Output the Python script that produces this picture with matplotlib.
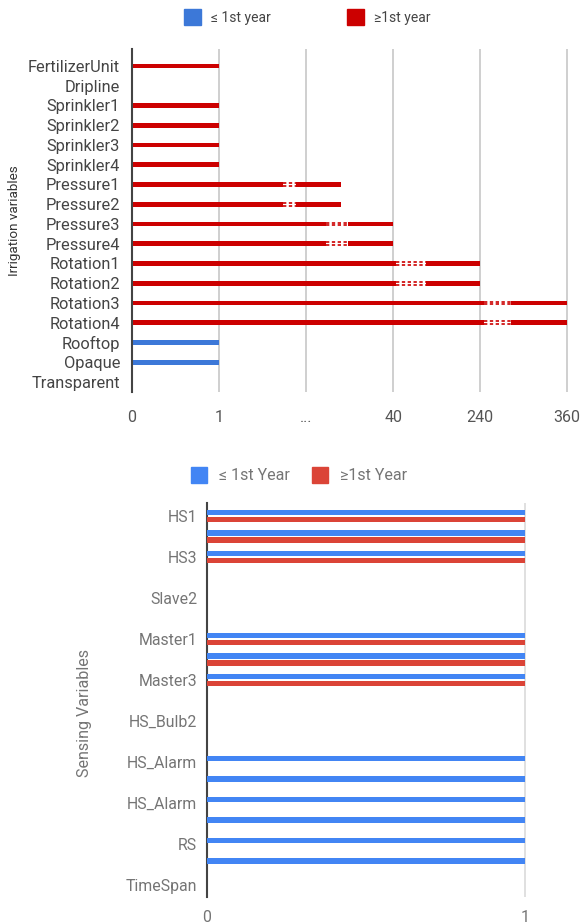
import numpy as np
import matplotlib
matplotlib.use('Agg')
import matplotlib.pyplot as plt
from matplotlib.patches import Patch

plt.rcParams['font.family'] = ['Roboto', 'DejaVu Sans']

# --- datos: variables de riego (eje x por posiciones) ---
irr_vars = ['FertilizerUnit', 'Dripline', 'Sprinkler1', 'Sprinkler2', 'Sprinkler3',
            'Sprinkler4', 'Pressure1', 'Pressure2', 'Pressure3', 'Pressure4',
            'Rotation1', 'Rotation2', 'Rotation3', 'Rotation4', 'Rooftop',
            'Opaque', 'Transparent']
irr_le1 = [0, 0, 0, 0, 0, 0, 0, 0, 0, 0, 0, 0, 0, 0, 1, 1, 0]
irr_ge1 = [1, 0, 1, 1, 1, 1, 2.4, 2.4, 3, 3, 4, 4, 5, 5, 0, 0, 0]
nan = np.nan
break_lo = [nan] * 6 + [1.73, 1.73, 2.23, 2.23, 3.03, 3.03, 4.04, 4.04] + [nan] * 3
break_hi = [nan] * 6 + [1.88, 1.88, 2.48, 2.48, 3.38, 3.38, 4.35, 4.35] + [nan] * 3
irr_xticks = ['0', '1', '...', '40', '240', '360']

# --- datos: variables de sensado ---
sens_vars = ['HS1', 'HS2', 'HS3', 'Slave1', 'Slave2', 'Slave3', 'Master1', 'Master2',
             'Master3', 'HS_Bulb1', 'HS_Bulb2', 'HS_Bulb3', 'HS_Alarm', 'HS_Alarm',
             'HS_Alarm', 'HS_Alarm', 'RS', 'RS', 'TimeSpan']
sens_le1 = [1, 1, 1, 0, 0, 0, 1, 1, 1, 0, 0, 0, 1, 1, 1, 1, 1, 1, 0]
sens_ge1 = [1, 1, 1, 0, 0, 0, 1, 1, 1, 0, 0, 0, 0, 0, 0, 0, 0, 0, 0]
sens_xticks = ['0', '1']

RED1, BLUE1 = '#cc0000', '#3c78d8'
BLUE2, RED2 = '#4285f4', '#db4437'
GRID = '#cccccc'

fig = plt.figure(figsize=(5.84, 9.24), dpi=100)

# Grafico superior
ax1 = fig.add_axes([0.226, 0.5758, 0.7466, 0.3712])
y1 = np.arange(len(irr_vars))
ax1.barh(y1, irr_ge1, height=0.24, color=RED1, zorder=3)
ax1.barh(y1, irr_le1, height=0.24, color=BLUE1, zorder=3)
lo = np.array(break_lo)
hi = np.array(break_hi)
ok = ~np.isnan(lo)
ax1.barh(y1[ok], hi[ok] - lo[ok], left=lo[ok], height=0.26, color='white', zorder=4)
for off in (-0.07, 0.07):
    ax1.hlines(y1[ok] + off, lo[ok], hi[ok], colors=RED1, linewidth=1.2,
               linestyles=(0, (2, 1.5)), zorder=5)
ax1.set_xlim(0, 5.01)
ax1.set_ylim(16.51, -0.86)
ax1.set_yticks(y1, irr_vars)
ax1.set_xticks(np.arange(len(irr_xticks)), irr_xticks)
ax1.xaxis.grid(True, color=GRID, linewidth=1.3, zorder=0)
ax1.set_axisbelow(True)
for s in ['top', 'right', 'bottom']:
    ax1.spines[s].set_visible(False)
ax1.spines['left'].set_color('#444444')
ax1.spines['left'].set_linewidth(1.5)
ax1.spines['left'].set_zorder(6)
ax1.tick_params(axis='y', length=0, pad=8.5, labelsize=11.8, labelcolor='#444444')
ax1.tick_params(axis='x', length=0, pad=13, labelsize=11.5, labelcolor='#555555')
ax1.set_ylabel('Irrigation variables', fontsize=9.7, color='#333333')
ax1.yaxis.set_label_coords(-0.255, 0.5)
leg1 = ax1.legend(handles=[Patch(color=BLUE1, label='≤ 1st year'),
                           Patch(color=RED1, label='≥1st year')],
                  ncol=2, loc='center', bbox_to_anchor=(0.5265, 0.9816),
                  bbox_transform=fig.transFigure, frameon=False, fontsize=10,
                  handlelength=1.22, handleheight=1.39, handletextpad=0.72,
                  columnspacing=5.5, borderpad=0, borderaxespad=0)
for t in leg1.get_texts():
    t.set_color('#444444')

# Grafico inferior
ax2 = fig.add_axes([0.3545, 0.0292, 0.5462, 0.4264])
y2 = np.arange(len(sens_vars))
ax2.barh(y2 - 0.17, sens_le1, height=0.25, color=BLUE2, zorder=3)
ax2.barh(y2 + 0.17, sens_ge1, height=0.25, color=RED2, zorder=3)
ax2.set_xlim(0, 1.003)
ax2.set_ylim(18.585, -0.634)
ax2.set_yticks(y2[::2], sens_vars[::2])
ax2.set_xticks(np.arange(len(sens_xticks)), sens_xticks)
ax2.xaxis.grid(True, color='#dddddd', linewidth=1.3, zorder=0)
ax2.set_axisbelow(True)
for s in ['top', 'right', 'bottom']:
    ax2.spines[s].set_visible(False)
ax2.spines['left'].set_color('#444444')
ax2.spines['left'].set_linewidth(1.5)
ax2.tick_params(axis='y', length=0, pad=7, labelsize=11.4, labelcolor='#757575')
ax2.tick_params(axis='x', length=0, pad=9, labelsize=11.4, labelcolor='#757575')
ax2.set_ylabel('Sensing Variables', fontsize=11.6, color='#757575')
ax2.yaxis.set_label_coords(-0.36, 0.467)
leg2 = ax2.legend(handles=[Patch(color=BLUE2, label='≤ 1st Year'),
                           Patch(color=RED2, label='≥1st Year')],
                  ncol=2, loc='center', bbox_to_anchor=(0.512, 0.486),
                  bbox_transform=fig.transFigure, frameon=False, fontsize=11.5,
                  handlelength=1.0, handleheight=1.16, handletextpad=0.75,
                  columnspacing=1.44, borderpad=0, borderaxespad=0)
for t in leg2.get_texts():
    t.set_color('#757575')

fig.savefig('out.png', dpi=100)
